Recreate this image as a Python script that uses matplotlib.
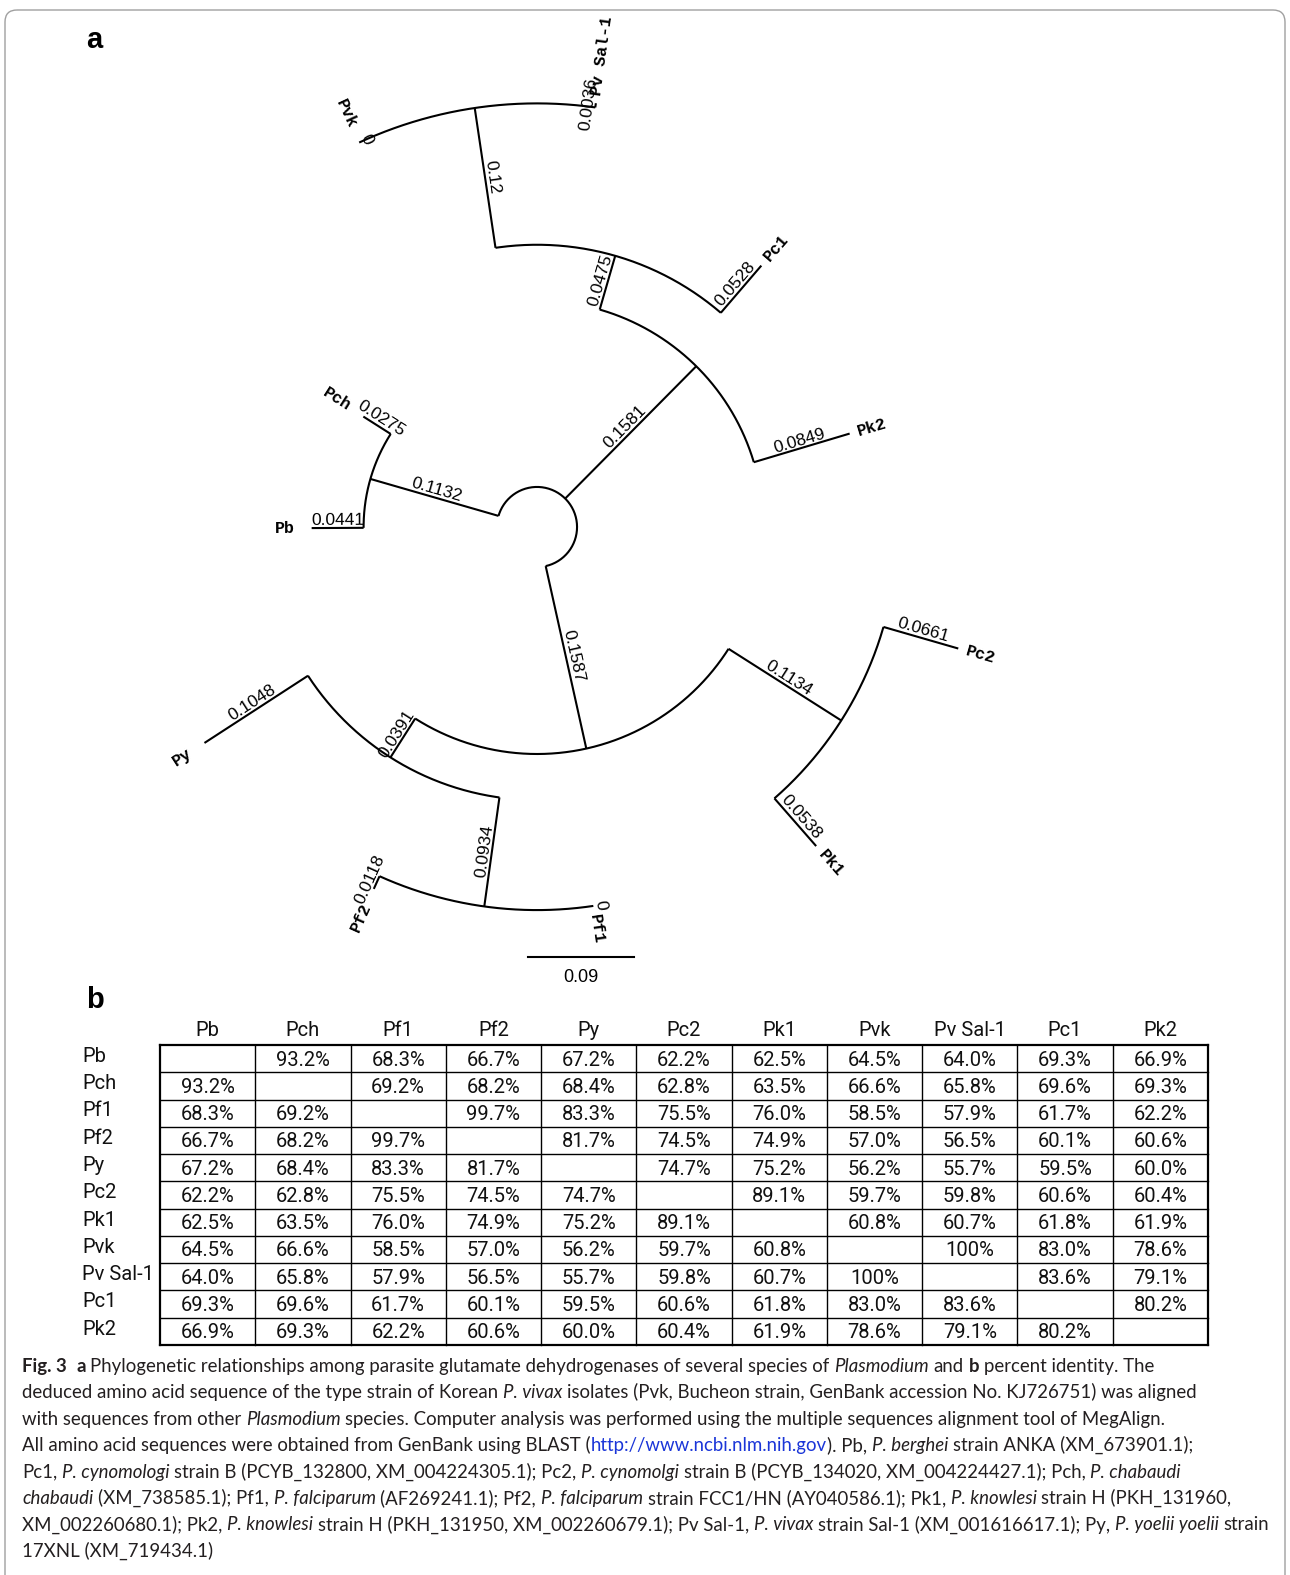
import numpy as np
import matplotlib
matplotlib.use("Agg")
import matplotlib.pyplot as plt
from matplotlib.patches import FancyBboxPatch

W, H, DPI = 1290, 1575, 100

# ---- panel a: tree ------------------------------------------------------
# leaves in counter-clockwise order around the circle
leaf_order = ["Py", "Pf2", "Pf1", "Pk1", "Pc2", "Pk2", "Pc1", "Pv Sal-1", "Pvk", "Pch", "Pb"]
children = {
    "root": ["M", "A", "L"],
    "A": ["Pk2", "B"],
    "B": ["Pc1", "D"],
    "D": ["Pv Sal-1", "Pvk"],
    "L": ["Pch", "Pb"],
    "M": ["N", "O"],
    "N": ["Py", "P"],
    "P": ["Pf2", "Pf1"],
    "O": ["Pk1", "Pc2"],
}
branch_len = {
    "A": 0.1581, "B": 0.0475, "D": 0.12, "Pk2": 0.0849, "Pc1": 0.0528,
    "Pv Sal-1": 0.0036, "Pvk": 0.0,
    "L": 0.1132, "Pch": 0.0275, "Pb": 0.0441,
    "M": 0.1587, "N": 0.0391, "O": 0.1134, "Py": 0.1048, "P": 0.0934,
    "Pf2": 0.0118, "Pf1": 0.0, "Pk1": 0.0538, "Pc2": 0.0661,
}
scale_bar = 0.09

# ---- panel b: percent identity -------------------------------------------
species = ["Pb", "Pch", "Pf1", "Pf2", "Py", "Pc2", "Pk1", "Pvk", "Pv Sal-1", "Pc1", "Pk2"]
identity = [
    [None, 93.2, 68.3, 66.7, 67.2, 62.2, 62.5, 64.5, 64.0, 69.3, 66.9],
    [93.2, None, 69.2, 68.2, 68.4, 62.8, 63.5, 66.6, 65.8, 69.6, 69.3],
    [68.3, 69.2, None, 99.7, 83.3, 75.5, 76.0, 58.5, 57.9, 61.7, 62.2],
    [66.7, 68.2, 99.7, None, 81.7, 74.5, 74.9, 57.0, 56.5, 60.1, 60.6],
    [67.2, 68.4, 83.3, 81.7, None, 74.7, 75.2, 56.2, 55.7, 59.5, 60.0],
    [62.2, 62.8, 75.5, 74.5, 74.7, None, 89.1, 59.7, 59.8, 60.6, 60.4],
    [62.5, 63.5, 76.0, 74.9, 75.2, 89.1, None, 60.8, 60.7, 61.8, 61.9],
    [64.5, 66.6, 58.5, 57.0, 56.2, 59.7, 60.8, None, 100.0, 83.0, 78.6],
    [64.0, 65.8, 57.9, 56.5, 55.7, 59.8, 60.7, 100.0, None, 83.6, 79.1],
    [69.3, 69.6, 61.7, 60.1, 59.5, 60.6, 61.8, 83.0, 83.6, None, 80.2],
    [66.9, 69.3, 62.2, 60.6, 60.0, 60.4, 61.9, 78.6, 79.1, 80.2, None],
]

caption = [
    [("Fig. 3", "b"), (" ", "n"), ("a", "b"),
     (" Phylogenetic relationships among parasite glutamate dehydrogenases of several species of ", "n"),
     ("Plasmodium", "i"), (" and ", "n"), ("b", "b"), (" percent identity. The", "n")],
    [("deduced amino acid sequence of the type strain of Korean ", "n"), ("P. vivax", "i"),
     (" isolates (Pvk, Bucheon strain, GenBank accession No. KJ726751) was aligned", "n")],
    [("with sequences from other ", "n"), ("Plasmodium", "i"),
     (" species. Computer analysis was performed using the multiple sequences alignment tool of MegAlign.", "n")],
    [("All amino acid sequences were obtained from GenBank using BLAST (", "n"),
     ("http://www.ncbi.nlm.nih.gov", "u"), ("). Pb, ", "n"), ("P. berghei", "i"),
     (" strain ANKA (XM_673901.1);", "n")],
    [("Pc1, ", "n"), ("P. cynomologi", "i"), (" strain B (PCYB_132800, XM_004224305.1); Pc2, ", "n"),
     ("P. cynomolgi", "i"), (" strain B (PCYB_134020, XM_004224427.1); Pch, ", "n"), ("P. chabaudi", "i")],
    [("chabaudi", "i"), (" (XM_738585.1); Pf1, ", "n"), ("P. falciparum", "i"), (" (AF269241.1); Pf2, ", "n"),
     ("P. falciparum", "i"), (" strain FCC1/HN (AY040586.1); Pk1, ", "n"), ("P. knowlesi", "i"),
     (" strain H (PKH_131960,", "n")],
    [("XM_002260680.1); Pk2, ", "n"), ("P. knowlesi", "i"),
     (" strain H (PKH_131950, XM_002260679.1); Pv Sal-1, ", "n"), ("P. vivax", "i"),
     (" strain Sal-1 (XM_001616617.1); Py, ", "n"), ("P. yoelii yoelii", "i"), (" strain", "n")],
    [("17XNL (XM_719434.1)", "n")],
]

fig = plt.figure(figsize=(W / DPI, H / DPI), dpi=DPI)
fig.patch.set_facecolor("white")

# page axes in pixels (border, panel letters, caption)
axp = fig.add_axes([0, 0, 1, 1])
axp.set_xlim(0, W); axp.set_ylim(H, 0); axp.axis("off")
axp.add_patch(FancyBboxPatch((5, 10), 1280, 1580, boxstyle="round,pad=0,rounding_size=12",
                             fc="none", ec="#a0a0a0", lw=1.0))
axp.text(86, 40, "a", fontsize=21, fontweight="bold", family="Liberation Sans", va="center")
axp.text(86, 1000, "b", fontsize=21, fontweight="bold", family="Liberation Sans", va="center")

# ---- tree ----------------------------------------------------------------
PX = 1178.0               # pixels per branch-length unit
cx, cy = 537, 527         # centre of the circular tree (pixels from top-left)
R0 = 0.034                # radius of the root circle
axt = fig.add_axes([0, 0, 1, 1])
axt.set_xlim(-cx / PX, (W - cx) / PX)
axt.set_ylim(-(H - cy) / PX, cy / PX)
axt.axis("off")
axt.patch.set_alpha(0)

step = 360.0 / len(leaf_order)
ang = {n: -147.0 + i * step for i, n in enumerate(leaf_order)}


def node_angle(n):
    if n not in ang:
        ang[n] = np.mean([node_angle(c) for c in children[n]])
    return ang[n]


node_angle("root")
rad = {"root": R0}


def set_rad(n):
    for c in children.get(n, []):
        rad[c] = rad[n] + branch_len[c]
        set_rad(c)


set_rad("root")
parent = {c: p for p, cs in children.items() for c in cs}

LW = 1.5
lbl_font = dict(family="Liberation Sans", fontsize=12.5)
leaf_font = dict(family="Liberation Mono", fontsize=12, fontweight="bold")


def pol(r, a):
    t = np.deg2rad(a)
    return r * np.cos(t), r * np.sin(t)


# arcs at internal nodes
for n, cs in children.items():
    a = [ang[c] for c in cs]
    tt = np.linspace(min(a), max(a), 200)
    x, y = pol(rad[n], tt)
    axt.plot(x, y, color="black", lw=LW, solid_capstyle="butt")

# radial branches + length labels
for n, p in parent.items():
    a = ang[n]
    x0, y0 = pol(rad[p], a)
    x1, y1 = pol(rad[n], a)
    axt.plot([x0, x1], [y0, y1], color="black", lw=LW, solid_capstyle="butt")
    flip = np.cos(np.deg2rad(a)) < 0
    rot = a + 180 if flip else a
    xm, ym = pol((rad[p] + rad[n]) / 2, a)
    axt.text(xm, ym, f"{branch_len[n]:g}", rotation=rot, rotation_mode="anchor",
             ha="center", va="bottom", **lbl_font)

# leaf labels (flipped ones on the left sit a little further out)
for n in leaf_order:
    a = ang[n]
    flip = np.cos(np.deg2rad(a)) < 0
    rot = a + 180 if flip else a
    x, y = pol(rad[n] + (0.014 if flip else 0.007), a)
    axt.text(x, y, n, rotation=rot, rotation_mode="anchor",
             ha="right" if flip else "left", va="center", **leaf_font)

# scale bar
axt.plot([-0.0076, -0.0076 + scale_bar], [-0.365, -0.365], color="black", lw=LW)
axt.text(-0.0076 + scale_bar / 2, -0.375, f"{scale_bar:g}", ha="center", va="top",
         family="Liberation Sans", fontsize=13)

# ---- table ---------------------------------------------------------------
nrow = len(species)
tx0, ty0, tw, th = 160, 1045, 1048, 300
axb = fig.add_axes([tx0 / W, 1 - (ty0 + th) / H, tw / W, th / H])
axb.set_xlim(0, nrow); axb.set_ylim(nrow, 0); axb.axis("off")
tab_font = dict(family="Roboto", fontsize=14.5, color="#111111")
for i in range(nrow + 1):
    lw = 1.6 if i in (0, nrow) else 1.0
    axb.plot([0, nrow], [i, i], color="black", lw=lw, clip_on=False)
    axb.plot([i, i], [0, nrow], color="black", lw=lw, clip_on=False)
for i, row in enumerate(identity):
    axb.text(-0.82, i + 0.42, species[i], ha="left", va="center", clip_on=False, **tab_font)
    axb.text(i + 0.5, -0.55, species[i], ha="center", va="center", clip_on=False, **tab_font)
    for j, v in enumerate(row):
        if v is None:
            continue
        s = "100%" if v >= 100 else f"{v:.1f}%"
        axb.text(j + 0.5, i + 0.55, s, ha="center", va="center", **tab_font)

# ---- caption -------------------------------------------------------------
cap_size = 13.4
styles = {
    "n": dict(family="Lato", color="#231f20"),
    "i": dict(family="Lato", style="italic", color="#231f20"),
    "b": dict(family="Lato", weight="bold", color="#231f20"),
    "u": dict(family="Lato", color="#1a35d8"),
}
renderer = fig.canvas.get_renderer()
probe = axp.text(0, 0, "a a", fontsize=cap_size, **styles["n"])
w2 = probe.get_window_extent(renderer).width
probe.set_text("aa")
space_w = w2 - probe.get_window_extent(renderer).width
probe.remove()

y = 1372
for line in caption:
    x = 22
    for txt, st in line:
        core = txt.strip(" ")
        lead = len(txt) - len(txt.lstrip(" "))
        trail = len(txt) - len(txt.rstrip(" "))
        x += lead * space_w
        if core:
            t = axp.text(x, y, core, fontsize=cap_size, va="baseline", ha="left", **styles[st])
            x += t.get_window_extent(renderer).width
        x += trail * space_w
    y += 26.4

fig.savefig("out.png", dpi=DPI)
